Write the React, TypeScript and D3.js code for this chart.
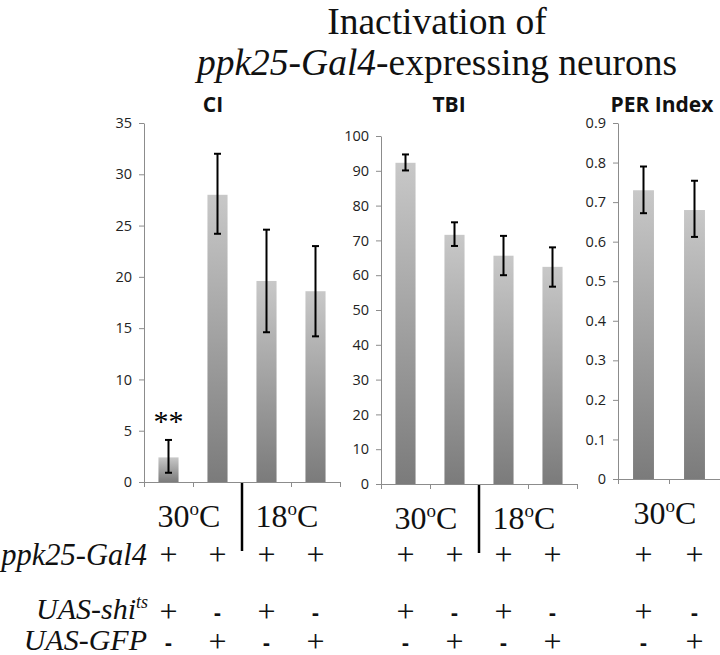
import React, { useEffect, useRef } from 'react';
import * as d3 from 'd3';

// groups: UAS-shi (+) vs UAS-GFP control, at 30 and 18 degrees
const ciCats = ['shi-30', 'gfp-30', 'shi-18', 'gfp-18'];
const ciMean = [2.4, 28.0, 19.6, 18.6];
const ciLow = [0.9, 24.2, 14.6, 14.2];
const ciHigh = [4.1, 32.0, 24.6, 23.0];
const ciTicks = [0, 5, 10, 15, 20, 25, 30, 35];
const ciTemps = ['30', '18'];

const tbiCats = ['shi-30', 'gfp-30', 'shi-18', 'gfp-18'];
const tbiMean = [92.3, 71.6, 65.6, 62.4];
const tbiLow = [90.1, 68.4, 60.0, 56.7];
const tbiHigh = [94.7, 75.2, 71.3, 68.0];
const tbiTicks = [0, 10, 20, 30, 40, 50, 60, 70, 80, 90, 100];
const tbiTemps = ['30', '18'];

const perCats = ['shi-30', 'gfp-30'];
const perMean = [0.73, 0.68];
const perLow = [0.672, 0.612];
const perHigh = [0.79, 0.754];
const perTicks = [0, 0.1, 0.2, 0.3, 0.4, 0.5, 0.6, 0.7, 0.8, 0.9];
const perTemps = ['30'];

const ppk25Signs = [['+', '+', '+', '+'], ['+', '+', '+', '+'], ['+', '+']];
const shiSigns = [['+', '-', '+', '-'], ['+', '-', '+', '-'], ['+', '-']];
const gfpSigns = [['-', '+', '-', '+'], ['-', '+', '-', '+'], ['-', '+']];

const signif = ['**', '', '', ''];

const serif = '"Liberation Serif", "Times New Roman", serif';
const sans = '"Open Sans", "DejaVu Sans", sans-serif';

const App = () => {
    const svgRef = useRef(null);

    useEffect(() => {
        const svg = d3.select(svgRef.current);
        svg.selectAll('*').remove();

        const defs = svg.append('defs');
        const grad = defs.append('linearGradient')
            .attr('id', 'barGrad')
            .attr('x1', 0).attr('y1', 0).attr('x2', 0).attr('y2', 1);
        grad.append('stop').attr('offset', '0%').attr('stop-color', '#c8c8c8');
        grad.append('stop').attr('offset', '100%').attr('stop-color', '#7b7b7b');

        const panels = [
            { title: 'CI', titleX: 213, cats: ciCats, mean: ciMean, low: ciLow, high: ciHigh,
              ticks: ciTicks, temps: ciTemps, x0: 144, x1: 340, y0: 482, y1: 123, fmt: d3.format('d'),
              stars: signif },
            { title: 'TBI', titleX: 449, cats: tbiCats, mean: tbiMean, low: tbiLow, high: tbiHigh,
              ticks: tbiTicks, temps: tbiTemps, x0: 381, x1: 577, y0: 484, y1: 136, fmt: d3.format('d'),
              stars: null },
            { title: 'PER Index', titleX: 662, cats: perCats, mean: perMean, low: perLow, high: perHigh,
              ticks: perTicks, temps: perTemps, x0: 618, x1: 720, y0: 479, y1: 123,
              fmt: (d) => String(+d.toFixed(1)), stars: null },
        ];

        panels.forEach((p, pi) => {
            const g = svg.append('g');
            const y = d3.scaleLinear()
                .domain([0, p.ticks[p.ticks.length - 1]])
                .range([p.y0, p.y1]);
            const x = d3.scaleBand()
                .domain(p.cats)
                .range([p.x0, p.x1])
                .paddingInner(0.59)
                .paddingOuter(0.295);
            const edge = d3.scaleLinear()
                .domain([0, p.cats.length])
                .range([p.x0, p.x1]);

            // panel title
            g.append('text')
                .attr('x', p.titleX)
                .attr('y', 112)
                .attr('text-anchor', 'middle')
                .style('font-family', sans)
                .style('font-weight', 700)
                .style('font-size', '21px')
                .attr('fill', '#111')
                .text(p.title);

            // bars
            g.selectAll('.bar')
                .data(p.mean)
                .join('rect')
                .attr('class', 'bar')
                .attr('x', (d, i) => x(p.cats[i]))
                .attr('width', x.bandwidth())
                .attr('y', d => y(d))
                .attr('height', d => y(0) - y(d))
                .attr('fill', 'url(#barGrad)');

            // axes
            const yAxis = d3.axisLeft(y)
                .tickValues(p.ticks)
                .tickFormat(p.fmt)
                .tickSize(5)
                .tickSizeOuter(0)
                .tickPadding(7);
            const ya = g.append('g')
                .attr('transform', `translate(${p.x0},0)`)
                .call(yAxis);
            const xAxis = d3.axisBottom(edge)
                .tickValues(d3.range(p.cats.length + 1))
                .tickFormat(() => '')
                .tickSize(5)
                .tickSizeOuter(0);
            const xa = g.append('g')
                .attr('transform', `translate(0,${p.y0})`)
                .call(xAxis);
            [ya, xa].forEach(a => {
                a.selectAll('path, line').attr('stroke', '#8c8c8c');
                a.selectAll('text')
                    .attr('fill', '#222')
                    .style('font-family', sans)
                    .style('font-size', '14.5px');
            });

            // error bars
            const cx = (i) => x(p.cats[i]) + x.bandwidth() / 2;
            const err = g.selectAll('.err')
                .data(p.mean)
                .join('g')
                .attr('class', 'err')
                .attr('stroke', '#000')
                .attr('stroke-width', 2);
            err.append('line')
                .attr('x1', (d, i) => cx(i)).attr('x2', (d, i) => cx(i))
                .attr('y1', (d, i) => y(p.low[i])).attr('y2', (d, i) => y(p.high[i]));
            err.append('line')
                .attr('x1', (d, i) => cx(i) - 3.5).attr('x2', (d, i) => cx(i) + 3.5)
                .attr('y1', (d, i) => y(p.high[i])).attr('y2', (d, i) => y(p.high[i]));
            err.append('line')
                .attr('x1', (d, i) => cx(i) - 3.5).attr('x2', (d, i) => cx(i) + 3.5)
                .attr('y1', (d, i) => y(p.low[i])).attr('y2', (d, i) => y(p.low[i]));

            if (p.stars) {
                g.selectAll('.star')
                    .data(p.stars)
                    .join('text')
                    .attr('class', 'star')
                    .attr('x', (d, i) => cx(i))
                    .attr('y', (d, i) => y(p.high[i]) - 9)
                    .attr('text-anchor', 'middle')
                    .style('font-family', serif)
                    .style('font-size', '30px')
                    .text(d => d);
            }

            // temperature labels
            p.temps.forEach((t, ti) => {
                const tx = edge(ti * 2 + 1) - 4;
                const txt = g.append('text')
                    .attr('x', tx)
                    .attr('y', p.y0 + 45)
                    .attr('text-anchor', 'middle')
                    .style('font-family', serif)
                    .style('font-size', '32px')
                    .attr('fill', '#111');
                txt.append('tspan').text(t);
                txt.append('tspan').attr('dy', -12).style('font-size', '19px').text('o');
                txt.append('tspan').attr('dy', 12).text('C');
            });
            if (p.temps.length > 1) {
                g.append('line')
                    .attr('x1', edge(2)).attr('x2', edge(2))
                    .attr('y1', p.y0 + 1).attr('y2', p.y0 + 69)
                    .attr('stroke', '#000')
                    .attr('stroke-width', 2.5);
            }

            // genotype signs
            const rows = [
                { signs: ppk25Signs[pi], center: 557 },
                { signs: shiSigns[pi], center: 614 },
                { signs: gfpSigns[pi], center: 644 },
            ];
            rows.forEach(r => {
                g.selectAll(null)
                    .data(r.signs)
                    .join('text')
                    .attr('x', (d, i) => cx(i))
                    .attr('y', d => d === '+' ? r.center + 8 : r.center + 6)
                    .attr('text-anchor', 'middle')
                    .style('font-family', d => d === '+' ? serif : '"Liberation Sans", Arial, sans-serif')
                    .style('font-weight', d => d === '+' ? 400 : 700)
                    .style('font-size', d => d === '+' ? '32px' : '22px')
                    .attr('fill', '#111')
                    .text(d => d);
            });
        });

        // title
        const title = svg.append('g')
            .attr('text-anchor', 'middle')
            .style('font-family', serif)
            .style('font-size', '37.5px')
            .attr('fill', '#111');
        title.append('text').attr('x', 437).attr('y', 34).text('Inactivation of');
        const t2 = title.append('text').attr('x', 437).attr('y', 75);
        t2.append('tspan').style('font-style', 'italic').text('ppk25-Gal4');
        t2.append('tspan').text('-expressing neurons');

        // row labels
        const rl = svg.append('g')
            .attr('text-anchor', 'end')
            .style('font-family', serif)
            .style('font-style', 'italic')
            .attr('fill', '#111');
        rl.append('text').attr('x', 147).attr('y', 565).style('font-size', '30.5px').text('ppk25-Gal4');
        const shi = rl.append('text').attr('x', 148).attr('y', 619).style('font-size', '30px');
        shi.append('tspan').text('UAS-shi');
        shi.append('tspan').attr('dy', -11).style('font-size', '18px').text('ts');
        rl.append('text').attr('x', 147).attr('y', 650).style('font-size', '30px').text('UAS-GFP');
    }, []);

    return (
        <svg
            ref={svgRef}
            width={720}
            height={655}
            style={{ position: 'absolute', left: 0, top: 0, background: '#fff' }}
        />
    );
};

export default App;
